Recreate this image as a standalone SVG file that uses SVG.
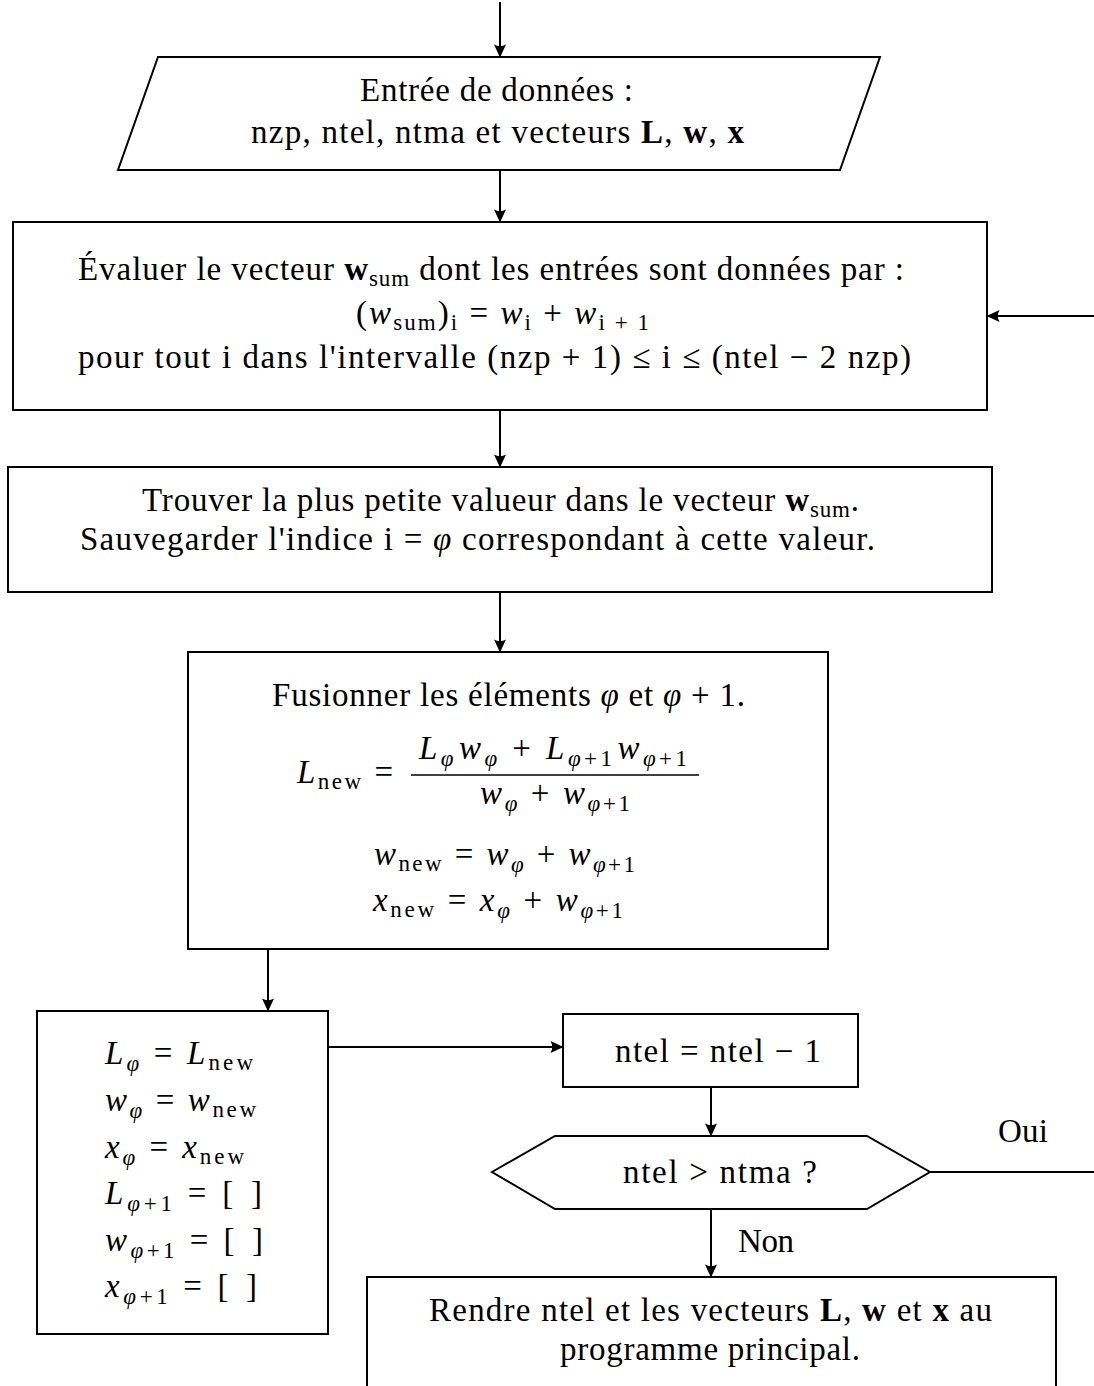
<svg xmlns="http://www.w3.org/2000/svg" width="1094" height="1386" viewBox="0 0 1094 1386">
<style>
.t{font-family:"Liberation Serif","Times New Roman",serif;font-size:33px;fill:#000}
.i{font-style:italic}
.b{font-weight:bold}
.s{font-size:23px}
.box{fill:#fff;stroke:#000;stroke-width:2}
.c{fill:none;stroke:#000;stroke-width:2}
</style>
<defs>
<marker id="ah" viewBox="-14 -7 15 14" refX="0" refY="0" markerWidth="15" markerHeight="14" markerUnits="userSpaceOnUse" orient="auto"><path d="M0.5,0 L-12.5,-6 Q-9,0 -12.5,6 Z" fill="#000"/></marker>
</defs>
<rect width="1094" height="1386" fill="#fff"/>

<g id="input">
<polygon class="box" points="158,57 880,57 840,170 118,170"/>
<text class="t" x="360" y="101" textLength="273" lengthAdjust="spacing">Entrée de données :</text>
<text class="t" x="251" y="143" textLength="493" lengthAdjust="spacing">nzp, ntel, ntma et vecteurs <tspan class="b">L</tspan>, <tspan class="b">w</tspan>, <tspan class="b">x</tspan></text>
</g>

<g id="wsum">
<rect class="box" x="13" y="222" width="974" height="188"/>
<text class="t" x="78" y="280" textLength="826" lengthAdjust="spacing">Évaluer le vecteur <tspan class="b">w</tspan><tspan class="s" dy="6">sum</tspan><tspan dy="-6"> dont les entrées sont données par :</tspan></text>
<text class="t" x="356" y="324" textLength="293" lengthAdjust="spacing">(<tspan class="i">w</tspan><tspan class="s" dy="6">sum</tspan><tspan dy="-6">)</tspan><tspan class="s" dy="6">i</tspan><tspan dy="-6"> = </tspan><tspan class="i">w</tspan><tspan class="s" dy="6">i</tspan><tspan dy="-6"> + </tspan><tspan class="i">w</tspan><tspan class="s" dy="6">i + 1</tspan></text>
<text class="t" x="78" y="368" textLength="833" lengthAdjust="spacing">pour tout i dans l'intervalle (nzp + 1) ≤ i ≤ (ntel − 2 nzp)</text>
</g>

<g id="min">
<rect class="box" x="8" y="467" width="984" height="125"/>
<text class="t" x="142" y="511" textLength="717" lengthAdjust="spacing">Trouver la plus petite valueur dans le vecteur <tspan class="b">w</tspan><tspan class="s" dy="6">sum</tspan><tspan dy="-6">.</tspan></text>
<text class="t" x="80" y="550" textLength="795" lengthAdjust="spacing">Sauvegarder l'indice i = <tspan class="i">φ</tspan> correspondant à cette valeur.</text>
</g>

<g id="merge">
<rect class="box" x="188" y="652" width="640" height="297"/>
<text class="t" x="272" y="706" textLength="473" lengthAdjust="spacing">Fusionner les éléments <tspan class="i">φ</tspan> et <tspan class="i">φ</tspan> + 1.</text>
<text class="t" x="297" y="783" textLength="96" lengthAdjust="spacing"><tspan class="i">L</tspan><tspan class="s" dy="6">new</tspan><tspan dy="-6"> =</tspan></text>
<line x1="411" y1="775" x2="699" y2="775" stroke="#000" stroke-width="1.6"/>
<text class="t" x="419" y="759" textLength="268" lengthAdjust="spacing"><tspan class="i">L</tspan><tspan class="s i" dy="7">φ</tspan><tspan class="i" dy="-7" dx="2">w</tspan><tspan class="s i" dy="7">φ</tspan><tspan dy="-7"> + </tspan><tspan class="i">L</tspan><tspan class="s" dy="7"><tspan class="i">φ</tspan>+1</tspan><tspan class="i" dy="-7" dx="2">w</tspan><tspan class="s" dy="7"><tspan class="i">φ</tspan>+1</tspan></text>
<text class="t" x="480" y="804" textLength="150" lengthAdjust="spacing"><tspan class="i">w</tspan><tspan class="s i" dy="7">φ</tspan><tspan dy="-7"> + </tspan><tspan class="i">w</tspan><tspan class="s" dy="7"><tspan class="i">φ</tspan>+1</tspan></text>
<text class="t" x="374" y="865" textLength="261" lengthAdjust="spacing"><tspan class="i">w</tspan><tspan class="s" dy="6">new</tspan><tspan dy="-6"> = </tspan><tspan class="i">w</tspan><tspan class="s i" dy="7">φ</tspan><tspan dy="-7"> + </tspan><tspan class="i">w</tspan><tspan class="s" dy="7"><tspan class="i">φ</tspan>+1</tspan></text>
<text class="t" x="373" y="911" textLength="250" lengthAdjust="spacing"><tspan class="i">x</tspan><tspan class="s" dy="6">new</tspan><tspan dy="-6"> = </tspan><tspan class="i">x</tspan><tspan class="s i" dy="7">φ</tspan><tspan dy="-7"> + </tspan><tspan class="i">w</tspan><tspan class="s" dy="7"><tspan class="i">φ</tspan>+1</tspan></text>
</g>

<g id="assign">
<rect class="box" x="37" y="1011" width="291" height="323"/>
<text class="t" x="105" y="1064" textLength="148" lengthAdjust="spacing"><tspan class="i">L</tspan><tspan class="s i" dy="7">φ</tspan><tspan dy="-7"> = </tspan><tspan class="i">L</tspan><tspan class="s" dy="6">new</tspan></text>
<text class="t" x="105" y="1111" textLength="151" lengthAdjust="spacing"><tspan class="i">w</tspan><tspan class="s i" dy="7">φ</tspan><tspan dy="-7"> = </tspan><tspan class="i">w</tspan><tspan class="s" dy="6">new</tspan></text>
<text class="t" x="105" y="1158" textLength="139" lengthAdjust="spacing"><tspan class="i">x</tspan><tspan class="s i" dy="7">φ</tspan><tspan dy="-7"> = </tspan><tspan class="i">x</tspan><tspan class="s" dy="6">new</tspan></text>
<text class="t" x="105" y="1204" textLength="157" lengthAdjust="spacing"><tspan class="i">L</tspan><tspan class="s" dy="7"><tspan class="i">φ</tspan>+1</tspan><tspan dy="-7"> = [</tspan><tspan dx="14">]</tspan></text>
<text class="t" x="105" y="1251" textLength="158" lengthAdjust="spacing"><tspan class="i">w</tspan><tspan class="s" dy="7"><tspan class="i">φ</tspan>+1</tspan><tspan dy="-7"> = [</tspan><tspan dx="14">]</tspan></text>
<text class="t" x="105" y="1297" textLength="152" lengthAdjust="spacing"><tspan class="i">x</tspan><tspan class="s" dy="7"><tspan class="i">φ</tspan>+1</tspan><tspan dy="-7"> = [</tspan><tspan dx="14">]</tspan></text>
</g>

<g id="decrement">
<rect class="box" x="563" y="1014" width="295" height="73"/>
<text class="t" x="615" y="1062" textLength="206" lengthAdjust="spacing">ntel = ntel − 1</text>
</g>

<g id="test">
<polygon class="box" points="492,1172 555,1136 867,1136 930,1172 867,1209 555,1209"/>
<text class="t" x="623" y="1183" textLength="194" lengthAdjust="spacing">ntel &gt; ntma ?</text>
</g>

<g id="output">
<rect class="box" x="367" y="1277" width="689" height="150"/>
<text class="t" x="429" y="1321" textLength="563" lengthAdjust="spacing">Rendre ntel et les vecteurs <tspan class="b">L</tspan>, <tspan class="b">w</tspan> et <tspan class="b">x</tspan> au</text>
<text class="t" x="560" y="1360" textLength="300" lengthAdjust="spacing">programme principal.</text>
</g>

<g id="connectors">
<path class="c" d="M500,2 V57" marker-end="url(#ah)"/>
<path class="c" d="M500,170 V222" marker-end="url(#ah)"/>
<path class="c" d="M500,410 V467" marker-end="url(#ah)"/>
<path class="c" d="M500,592 V652" marker-end="url(#ah)"/>
<path class="c" d="M268,949 V1011" marker-end="url(#ah)"/>
<path class="c" d="M328,1047 H563" marker-end="url(#ah)"/>
<path class="c" d="M711,1087 V1136" marker-end="url(#ah)"/>
<path class="c" d="M930,1172 H1096 V316 H987" marker-end="url(#ah)"/>
<path class="c" d="M711,1209 V1277" marker-end="url(#ah)"/>
<text class="t" x="998" y="1142" textLength="50" lengthAdjust="spacing">Oui</text>
<text class="t" x="738" y="1252" textLength="56" lengthAdjust="spacing">Non</text>
</g>
</svg>
